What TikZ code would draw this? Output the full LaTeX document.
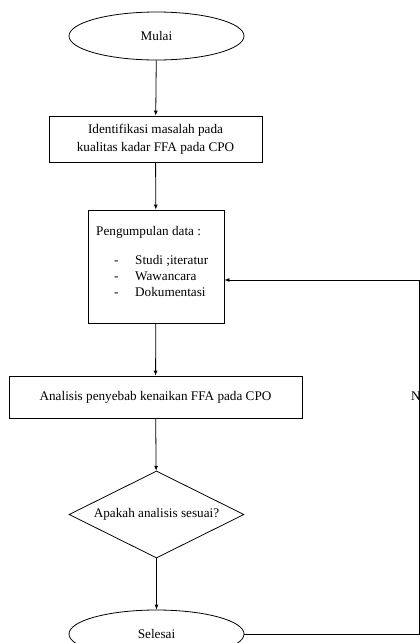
\documentclass[tikz,border=0pt]{standalone}
\usepackage{fontspec}
\setmainfont{Liberation Serif}
\usetikzlibrary{shapes.geometric,arrows.meta}
\begin{document}
\begin{tikzpicture}[x=1pt,y=-1pt,
  every node/.style={font=\fontsize{13.2}{18}\selectfont},
  term/.style={draw,ellipse,minimum width=175pt,minimum height=48pt,inner sep=0pt,line width=0.8pt},
  procbox/.style={draw,rectangle,inner sep=0pt,line width=0.8pt},
  decide/.style={draw,diamond,shape aspect=2,minimum width=175pt,minimum height=87pt,inner sep=0pt,line width=0.8pt},
  txt/.style={inner sep=0pt,anchor=base west},
  flow/.style={-{Latex[length=5pt,width=4pt]},line width=0.8pt},
  plain/.style={line width=0.8pt}]
\clip (0,0) rectangle (420,643);
\fill[white] (0,0) rectangle (420,643);
\node[term] (mulai) at (156.5,36) {Mulai};
\node[procbox,minimum width=213pt,minimum height=46pt,align=center] (ident) at (155.5,139) {Identifikasi masalah pada\\kualitas kadar FFA pada CPO};
\node[procbox,minimum width=136pt,minimum height=113pt] (kumpul) at (156,266.5) {};
\node[txt] (t1) at (96,235) {Pengumpulan data :};
\node[txt] (d1) at (114,264) {-};
\node[txt] (l1) at (135,264) {Studi ;iteratur};
\node[txt] (d2) at (114,280) {-};
\node[txt] (l2) at (135,280) {Wawancara};
\node[txt] (d3) at (114,296) {-};
\node[txt] (l3) at (135,296) {Dokumentasi};
\node[procbox,minimum width=293pt,minimum height=42pt] (analisis) at (155.5,397) {Analisis penyebab kenaikan FFA pada CPO};
\node[decide] (dec) at (156.5,514.5) {Apakah analisis sesuai?};
\node[term] (selesai) at (156.5,634) {Selesai};
\node[txt] (no) at (411,400) {No};
\coordinate (c1) at (419.8,634);
\coordinate (c2) at (419.8,280);
\draw[flow] (mulai) -- (ident);
\draw[flow] (ident) -- (kumpul);
\draw[flow] (kumpul) -- (analisis);
\draw[flow] (analisis) -- (dec);
\draw[flow] (dec) -- (selesai);
\draw[plain] (selesai.east) -- (c1) -- (c2);
\draw[flow] (c2) -- (kumpul.east |- c2);
\end{tikzpicture}
\end{document}
